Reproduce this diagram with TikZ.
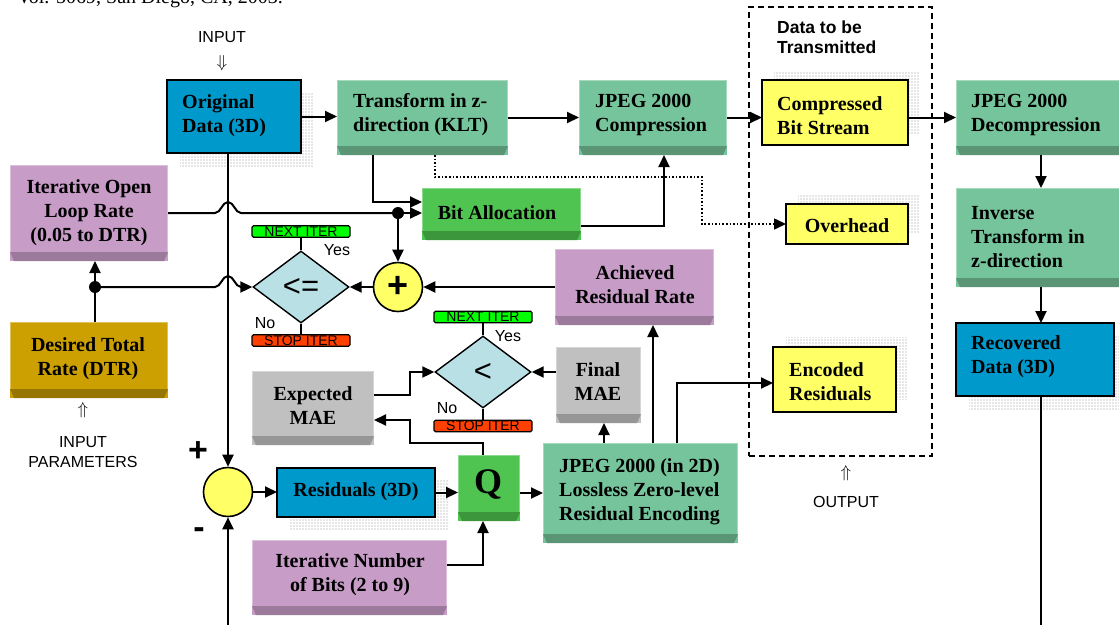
\documentclass[tikz,border=0pt]{standalone}
\usepackage{fontspec}
\setmainfont{Liberation Serif}
\setsansfont{Liberation Sans}
\usetikzlibrary{arrows.meta,shapes.geometric,patterns.meta,calc}

\definecolor{cblue}{RGB}{0,153,204}
\definecolor{gLight}{RGB}{118,196,155}
\definecolor{gDark}{RGB}{90,150,118}
\definecolor{pLight}{RGB}{199,156,199}
\definecolor{pDark}{RGB}{155,122,155}
\definecolor{oLight}{RGB}{204,160,0}
\definecolor{oDark}{RGB}{150,118,0}
\definecolor{bLight}{RGB}{80,196,80}
\definecolor{bDark}{RGB}{60,150,60}
\definecolor{sLight}{RGB}{192,192,192}
\definecolor{sDark}{RGB}{150,150,150}
\definecolor{cyel}{RGB}{255,255,102}
\definecolor{cdia}{RGB}{185,224,228}
\definecolor{cnext}{RGB}{0,255,0}
\definecolor{cstop}{RGB}{255,64,0}

\newcommand\bevelbox[7]{%
  \node[inner sep=0pt, outer sep=0pt, fill=#6, minimum width={(#4-#2)*1pt}, minimum height={(#5-#3)*1pt}] (#1) at ({(#2+#4)/2},{(#3+#5)/2}) {};
  \fill[#7] (#2,#5-9) -- (#4,#5-9) -- (#4-4,#5) -- (#2+4,#5) -- cycle;
  \draw[#6!65!white, line width=1pt] (#2+0.5,#5-9) -- (#2+0.5,#3+0.5) -- (#4-0.5,#3+0.5) -- (#4-0.5,#5-9);
}
\newcommand\flatbox[6]{%
  \node[draw=black, line width=1.6pt, inner sep=0pt, outer sep=0pt, fill=#6, minimum width={(#4-#2)*1pt}, minimum height={(#5-#3)*1pt}] (#1) at ({(#2+#4)/2},{(#3+#5)/2}) {};
}
\newcommand\dotshadow[4]{%
  \fill[pattern={Dots[distance=3pt,radius=0.6pt]}, pattern color=gray!85] (#1,#2) rectangle (#3,#4);
}

\tikzset{
  bt/.style={font=\bfseries\fontsize{20}{24}\selectfont, inner sep=0pt, align=left, yshift=-2pt},
  bc/.style={font=\bfseries\fontsize{20}{24}\selectfont, inner sep=0pt, align=center, yshift=-2pt},
  sl/.style={font=\sffamily\fontsize{16}{20}\selectfont, inner sep=0pt, align=center},
  conn/.style={line width=2pt},
  arr/.style={line width=2pt, -{Triangle[length=12pt,width=11pt]}},
  dotline/.style={line width=1.6pt, dotted, -{Triangle[length=12pt,width=11pt]}},
  thinl/.style={line width=1.4pt},
  tag/.style={draw, line width=1.1pt, rounded corners=1.5pt, minimum width=98pt, minimum height=11.5pt, inner sep=0pt, font=\sffamily\fontsize{14}{14}\selectfont},
  dia/.style={diamond, draw, line width=1.4pt, fill=cdia, minimum width=96pt, minimum height=72pt, inner sep=0pt, font=\sffamily\fontsize{31}{31}\selectfont},
  dotnode/.style={circle, fill=black, inner sep=0pt, minimum size=12pt},
  sumc/.style={circle, draw, line width=1.6pt, fill=cyel, minimum size=49pt, inner sep=0pt}
}

\begin{document}
\begin{tikzpicture}[x=1pt,y=-1pt]
\useasboundingbox (0,0) rectangle (1119,625);
\clip (0,0) rectangle (1119,625);
\fill[white] (0,0) rectangle (1119,625);

% cut-off reference line at the top
\node[anchor=base east, font=\fontsize{20}{24}\selectfont, inner sep=0pt] (reftxt) at (283,3) {Vol. 5069, San Diego, CA, 2003.};

% input label
\node[sl] (inlbl) at (222,37) {INPUT};
\node[inner sep=0pt, font=\fontsize{16}{16}\selectfont] (inarr) at (222,63) {$\Downarrow$};

% dashed group
\node[draw, dashed, dash pattern=on 6pt off 4pt, line width=1.6pt, minimum width=183pt, minimum height=449pt, inner sep=0pt] (txbox) at (840.5,231.5) {};
\node[anchor=west, font=\sffamily\bfseries\fontsize{17.5}{20.5}\selectfont, align=left, inner sep=0pt] (txT) at (777,37) {Data to be\\Transmitted};

% shadows
\dotshadow{180}{92}{314}{166}
\dotshadow{969}{335}{1127}{409}
\dotshadow{290}{480}{448}{530}
\dotshadow{774}{71}{920}{133}
\dotshadow{798}{194}{920}{232}
\dotshadow{786}{337}{908}{399}

% boxes
\flatbox{orig}{167}{80}{301}{153}{cblue}
\node[bt, anchor=west] (origT) at (182,114) {Original\\Data (3D)};
\bevelbox{trans}{337}{80}{508}{155}{gLight}{gDark}
\node[bt, anchor=west] (transT) at (353,113) {Transform in z-\\direction (KLT)};
\bevelbox{jcomp}{579}{80}{727}{155}{gLight}{gDark}
\node[bt, anchor=west] (jcompT) at (595,113) {JPEG 2000\\Compression};
\flatbox{cbs}{762}{80}{908}{145}{cyel}
\node[bt, anchor=west] (cbsT) at (777,114) {Compressed\\Bit Stream};
\bevelbox{decomp}{956}{80}{1130}{155}{gLight}{gDark}
\node[bt, anchor=west] (decompT) at (971,113) {JPEG 2000\\Decompression};
\bevelbox{inv}{956}{188}{1130}{287}{gLight}{gDark}
\node[bt, anchor=west] (invT) at (971,235) {Inverse\\Transform in\\z-direction};
\flatbox{rec}{956}{323}{1114}{396}{cblue}
\node[bt, anchor=west] (recT) at (971,355) {Recovered\\Data (3D)};
\flatbox{ovh}{786}{204}{908}{244}{cyel}
\node[bc] (ovhT) at (847,224) {Overhead};
\flatbox{enc}{773}{347}{896}{412}{cyel}
\node[bt, anchor=west] (encT) at (789,380) {Encoded\\Residuals};
\node[inner sep=0pt, font=\fontsize{16}{16}\selectfont] (outarr) at (846,473) {$\Uparrow$};
\node[sl] (outlbl) at (846,502) {OUTPUT};

\bevelbox{iolr}{10}{165}{168}{261}{pLight}{pDark}
\node[bc] (iolrT) at (89,211) {Iterative Open\\Loop Rate\\(0.05 to DTR)};
\bevelbox{dtr}{10}{322}{168}{398}{oLight}{oDark}
\node[bc] (dtrT) at (88,357) {Desired Total\\Rate (DTR)};
\node[inner sep=0pt, font=\fontsize{16}{16}\selectfont] (iparr) at (83,410) {$\Uparrow$};
\node[sl] (iplbl) at (83,452) {INPUT\\PARAMETERS};

\bevelbox{ba}{422}{188}{581}{240}{bLight}{bDark}
\node[bc] (baT) at (497,211) {Bit Allocation};
\bevelbox{arr}{555}{249}{714}{325}{pLight}{pDark}
\node[bc] (arrT) at (635,283) {Achieved\\Residual Rate};
\node[sumc, font=\sffamily\bfseries\fontsize{36}{36}\selectfont] (plus) at (398,287) {+};
\node[dia] (le) at (301,287) {<=};
\node[tag, fill=cnext] (nx1) at (301,231.5) {NEXT ITER};
\node[tag, fill=cstop] (st1) at (301,340.5) {STOP ITER};
\node[sl] (yes1) at (337,250) {Yes};
\node[sl] (no1) at (265,323) {No};

\node[dia] (lt) at (483,372) {<};
\node[tag, fill=cnext] (nx2) at (483,317) {NEXT ITER};
\node[tag, fill=cstop] (st2) at (483,426) {STOP ITER};
\node[sl] (yes2) at (508,336) {Yes};
\node[sl] (no2) at (447,408) {No};

\bevelbox{fmae}{556}{347}{641}{423}{sLight}{sDark}
\node[bc] (fmaeT) at (598,380) {Final\\MAE};
\bevelbox{emae}{252}{371}{374}{445}{sLight}{sDark}
\node[bc] (emaeT) at (313,404) {Expected\\MAE};

\node[sumc] (sum) at (228,492) {};
\node[inner sep=0pt, font=\sffamily\bfseries\fontsize{34}{34}\selectfont] (plbl) at (198,452) {+};
\node[inner sep=0pt, font=\sffamily\bfseries\fontsize{34}{34}\selectfont] (mlbl) at (199,533) {-};
\flatbox{res}{277}{468}{435}{517}{cblue}
\node[bc] (resT) at (356,490) {Residuals (3D)};
\bevelbox{q}{458}{455}{520}{521}{bLight}{bDark}
\node[inner sep=0pt, font=\bfseries\fontsize{36}{36}\selectfont] (qT) at (488,484) {Q};
\bevelbox{inb}{252}{540}{447}{615}{pLight}{pDark}
\node[bc] (inbT) at (350,573) {Iterative Number\\of Bits (2 to 9)};
\bevelbox{j2d}{543}{443}{738}{543}{gLight}{gDark}
\node[bt, anchor=west] (j2dT) at (559,490) {JPEG 2000 (in 2D)\\Lossless Zero-level\\Residual Encoding};

% helper coordinates
\coordinate (xL) at (228,0);
\coordinate (xR) at (1041,0);
\coordinate (recEnd) at (1041,625);
\coordinate (sumIn) at (228,625);
\coordinate (tb) at (373,202);
\coordinate (bj) at (664,226);
\coordinate (d1) at (435,177);
\coordinate (d2) at (702,177);
\coordinate (d3) at (702,224);
\coordinate (qx) at (483,565);
\coordinate (qa) at (483,443);
\coordinate (qb) at (410,443);
\coordinate (qc) at (410,420);
\coordinate (ea) at (410,395);
\coordinate (fx) at (604,0);
\coordinate (ax) at (653,0);
\coordinate (ex) at (677,383);
\node[dotnode] (dot1) at (398,213) {};
\node[dotnode] (dot2) at (95,287) {};

% connectors
\draw[arr] (orig.east) -- (orig.east -| trans.west);
\draw[arr] (trans.east) -- (jcomp.west);
\draw[arr] (jcomp.east) -- (jcomp.east -| cbs.west);
\draw[arr] (decomp.west -| cbs.east) -- (decomp.west);
\draw[arr] (decomp.south -| xR) -- (inv.north -| xR);
\draw[arr] (inv.south -| xR) -- (rec.north -| xR);
\draw[conn] (rec.south -| xR) -- (recEnd);

\draw[arr] (orig.south -| xL) -- (sum.north);
\draw[arr] (sumIn) -- (sum.south);
\draw[arr] (sum.east) -- (sum.east -| res.west);
\draw[arr] (res.east) -- (res.east -| q.west);
\draw[arr] (j2d.west -| q.east) -- (j2d.west);
\draw[arr] (inb.east |- qx) -- (qx) -- (q.south -| qx);
\draw[arr] (q.north -| qa) -- (qa) -- (qb) -- (qc) -- (emae.east |- qc);
\draw[arr] (emae.east |- ea) -- (ea) -- (ea |- lt.west) -- (lt.west);
\draw[arr] (lt.east -| fmae.west) -- (lt.east);
\draw[arr] (j2d.north -| fx) -- (fmae.south -| fx);
\draw[arr] (j2d.north -| ax) -- (arr.south -| ax);
\draw[arr] (j2d.north -| ex) -- (ex) -- (enc.west |- ex);

\draw[arr] (arr.west |- plus.east) -- (plus.east);
\draw[arr] (plus.west) -- (le.east);
\draw[thinl] (le.north) -- (nx1.south);
\draw[thinl] (le.south) -- (st1.north);
\draw[thinl] (lt.north) -- (nx2.south);
\draw[thinl] (lt.south) -- (st2.north);

\draw[arr] (dot1) -- (plus.north);
\draw[arr] (dot1) -- (dot1 -| ba.west);
\draw[conn] (iolr.east) -- (215,213) .. controls (221,213) and (222,202) .. (228,202) .. controls (234,202) and (235,213) .. (241,213) -- (dot1);
\draw[arr] (trans.south -| tb) -- (tb) -- (tb -| ba.west);
\draw[arr] (ba.east |- bj) -- (bj) -- (jcomp.south -| bj);
\draw[dotline] (trans.south -| d1) -- (d1) -- (d2) -- (d3) -- (ovh.west);

\draw[conn] (dtr.north -| dot2) -- (dot2);
\draw[arr] (dot2) -- (iolr.south -| dot2);
\draw[arr] (dot2) -- (215,287) .. controls (221,287) and (222,276) .. (228,276) .. controls (234,276) and (235,287) .. (241,287) -- (le.west);
\end{tikzpicture}
\end{document}
